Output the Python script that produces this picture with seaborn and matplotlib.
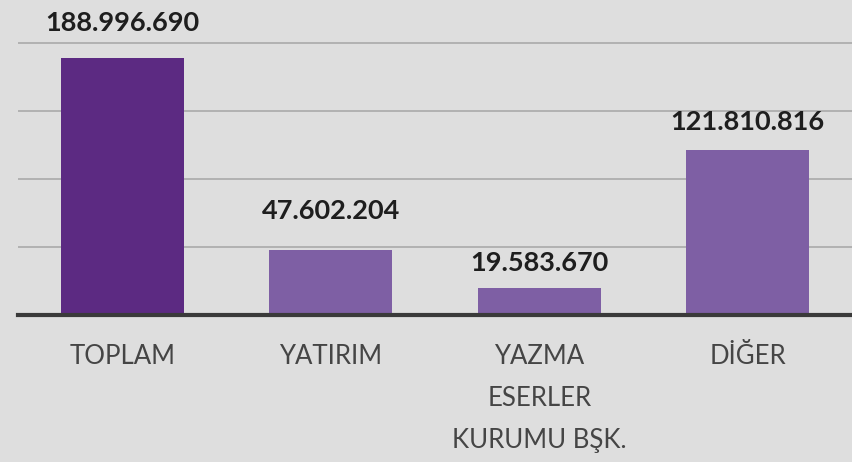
import matplotlib
matplotlib.use('Agg')
import matplotlib.pyplot as plt
import seaborn as sns
import pandas as pd

categories = ['TOPLAM', 'YATIRIM', 'YAZMA\nESERLER\nKURUMU BŞK.', 'DİĞER']
values = [188996690, 47602204, 19583670, 121810816]
value_labels = ['188.996.690', '47.602.204', '19.583.670', '121.810.816']
bar_colors = ['#5c2a82', '#7e5fa4', '#7e5fa4', '#7e5fa4']
# etiketler elle yerleştirilmiş gibi, yükseklikleri biraz farklı
label_offsets = [16.5, 19.5, 10, 11]

sns.set_theme(style='white')
plt.rcParams['font.family'] = ['Lato', 'DejaVu Sans']

df = pd.DataFrame({'kategori': categories, 'tutar': values})

fig = plt.figure(figsize=(8.53, 4.62), dpi=100)
fig.patch.set_facecolor('#dedede')
ax = fig.add_axes([18 / 853, 1 - 315 / 462, (852 - 18) / 853, (315 - 8) / 462])
ax.set_facecolor('#dedede')

sns.barplot(data=df, x='kategori', y='tutar', hue='kategori',
            palette=bar_colors, width=0.59, saturation=1, linewidth=0,
            legend=False, ax=ax, zorder=3)

ax.set_ylim(0, 226e6)
ax.set_xlim(-0.5, 3.5)
ax.set_yticks([50e6, 100e6, 150e6, 200e6])
ax.yaxis.grid(True, color='#aeaeae', linewidth=1.3)
ax.set_axisbelow(True)
ax.tick_params(axis='y', left=False, labelleft=False)
ax.tick_params(axis='x', bottom=False, pad=15)
ax.set_xticks(range(len(categories)))
ax.set_xticklabels(categories, fontsize=18.5, color='#454545', linespacing=1.85,
                   va='top')
ax.set_xlabel('')
ax.set_ylabel('')

for s in ['top', 'left', 'right']:
    ax.spines[s].set_visible(False)
ax.spines['bottom'].set_color('#3a3a3a')
ax.spines['bottom'].set_linewidth(3)
ax.spines['bottom'].set_zorder(4)

for i, (v, lab, off) in enumerate(zip(values, value_labels, label_offsets)):
    ax.annotate(lab, (i, v), xytext=(0, off), textcoords='offset points',
                ha='center', va='bottom', fontsize=19.5, fontweight='bold',
                color='#1e1e1e')

fig.savefig('out.png', dpi=100, facecolor=fig.get_facecolor())
